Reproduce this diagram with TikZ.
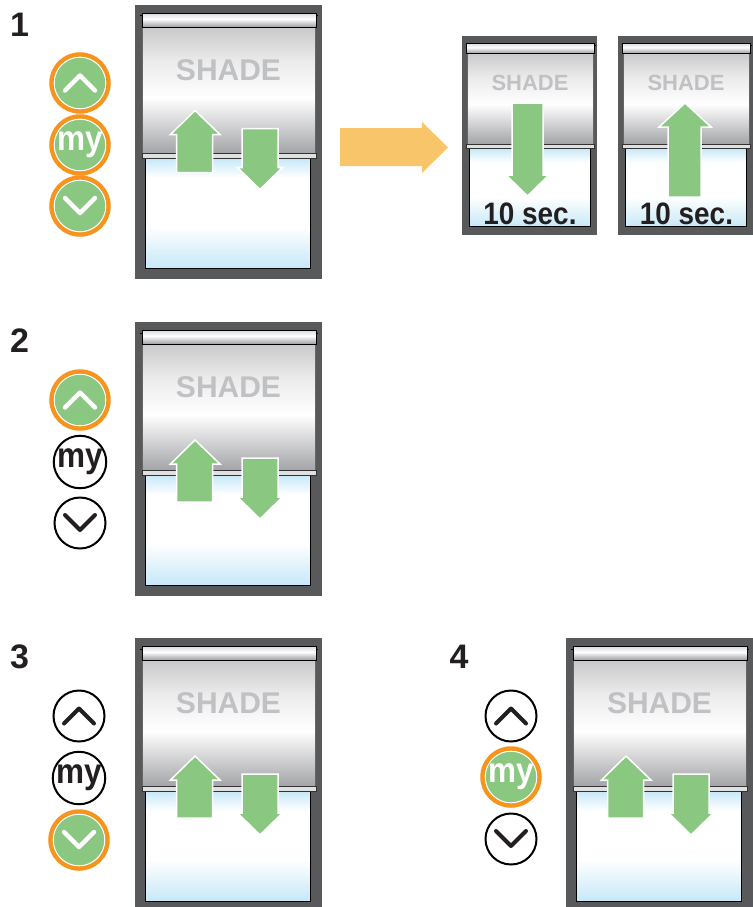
\documentclass[tikz,border=0pt]{standalone}
\usepackage{fontspec}
\setmainfont{Liberation Sans}
\newfontfamily\narrowfont[FakeStretch=0.9]{Liberation Sans}
\usetikzlibrary{positioning}
\definecolor{framegray}{HTML}{58595B}
\definecolor{leaf}{HTML}{8AC882}
\definecolor{ring}{HTML}{F7941E}
\definecolor{hint}{HTML}{F8C56B}
\definecolor{shadegray}{HTML}{C0C1C4}
\definecolor{sky}{HTML}{C6E8F8}
\definecolor{clothtop}{HTML}{C9C9CB}
\definecolor{clothbot}{HTML}{A3A4A7}
\definecolor{railtop}{HTML}{DADADC}
\definecolor{railbot}{HTML}{9A9B9E}
\definecolor{ink}{HTML}{231F20}
\pgfdeclareverticalshading{glassfade}{100bp}{color(0bp)=(sky); color(25bp)=(sky); color(44bp)=(white); color(66bp)=(white); color(75bp)=(sky); color(100bp)=(sky)}
\pgfdeclareverticalshading{clothfade}{100bp}{color(0bp)=(clothbot); color(25bp)=(clothbot); color(47bp)=(white); color(62bp)=(black!8); color(75bp)=(clothtop); color(100bp)=(clothtop)}
\pgfdeclareverticalshading{railfade}{100bp}{color(0bp)=(railbot); color(25bp)=(railbot); color(55bp)=(white); color(75bp)=(railtop); color(100bp)=(railtop)}
\newcommand*{\mytxt}{\narrowfont\bfseries\fontsize{35}{35}\selectfont}
\tikzset{
 winframe/.style={fill=framegray},
 glass/.style={draw=black, line width=0.8, shade, shading=glassfade},
 cloth/.style={draw=black!60, line width=0.5, shade, shading=clothfade},
 rail/.style={draw=black, line width=0.7, shade, shading=railfade},
 bottombar/.style={fill=black!12, draw=black!80, line width=0.6},
 greenarrow/.style={fill=leaf, draw=white, line width=1.5},
 shadetxt/.style={text=shadegray, inner sep=0, font=\bfseries\fontsize{30}{30}\selectfont},
 smalltxt/.style={text=shadegray, inner sep=0, font=\bfseries\fontsize{22}{22}\selectfont},
 sectxt/.style={text=ink, inner sep=0, anchor=base, font=\narrowfont\bfseries\fontsize{31}{31}\selectfont},
 steplabel/.style={text=ink, inner sep=0, font=\bfseries\fontsize{34}{34}\selectfont},
 btnon/.style={circle, fill=leaf, draw=ring, line width=4.5, minimum size=57, inner sep=0, text=white, font=\mytxt},
 btnoff/.style={circle, fill=white, draw=black, line width=2, minimum size=51, inner sep=0, text=ink, font=\mytxt},
 chevon/.style={draw=white, line width=4.5, line cap=round, line join=round},
 chevoff/.style={draw=ink, line width=4, line cap=round, line join=round}
}
\newcommand*{\btnring}[1]{\draw[white, line width=1] (#1.center) circle (25.8pt);}
\newcommand*{\chevup}[2]{\draw[#2] ([shift={(-15,7.5)}]#1.center) -- ([shift={(0,-7.5)}]#1.center) -- ([shift={(15,7.5)}]#1.center);}
\newcommand*{\chevdown}[2]{\draw[#2] ([shift={(-15,-8)}]#1.center) -- ([shift={(0,7)}]#1.center) -- ([shift={(15,-8)}]#1.center);}
\newcommand*{\bigshade}[4]{%
 \begin{scope}[shift={(#1,#2)}]
  \fill[winframe] (0,0) rectangle (187,274);
  \draw[glass] (10.7,153) rectangle (175.7,263.3);
  \draw[cloth] (7.5,22.3) rectangle (180,148.3);
  \draw[line width=1] (5,11) -- (183,11);
  \draw[rail] (7,8.3) rectangle (181,22.3);
  \draw[bottombar] (7,148.3) rectangle (181,153.3);
  \node[shadetxt] (#4) at (93.5,65.5) {SHADE};
  \begin{scope}[shift={(0,#3)}]
   \draw[greenarrow] (41.5,180) -- (41.5,142) -- (35.5,142) -- (60,118) -- (85,142) -- (77.5,142) -- (77.5,180) -- cycle;
   \draw[greenarrow] (107,136) -- (143,136) -- (143,175) -- (147.5,175) -- (125,197) -- (102.5,175) -- (107,175) -- cycle;
  \end{scope}
 \end{scope}}
\newcommand*{\smallshade}[3]{%
 \begin{scope}[shift={(#1,#2)}]
  \fill[winframe] (0,0) rectangle (135,199);
  \draw[glass] (7.3,112.3) rectangle (128,190.7);
  \draw[cloth] (5.7,17.3) rectangle (131.3,108);
  \draw[line width=1] (3.5,9.5) -- (133.5,9.5);
  \draw[rail] (4.7,7.3) rectangle (132,17.3);
  \draw[bottombar] (4.7,108) rectangle (132,112.3);
  \node[smalltxt] (#3) at (68,47) {SHADE};
 \end{scope}}

\begin{document}
\begin{tikzpicture}[x=1pt, y=-1pt]
 \useasboundingbox (0,0) rectangle (752,907);
 % 1
 \node[steplabel] (n1) at (19.5,25) {1};
 \bigshade{135}{5}{-12.5}{shade1}
 \node[btnon] (up1) at (80,83) {}; \btnring{up1} \chevup{up1}{chevon}
 \node[btnon] (my1) at (80,145) {my}; \btnring{my1}
 \node[btnon] (dn1) at (80,206) {}; \btnring{dn1} \chevdown{dn1}{chevon}
 \fill[hint] (340,128) -- (422,128) -- (422,122) -- (448,147.5) -- (422,173) -- (422,166) -- (340,166) -- cycle;
 \smallshade{462}{36}{sm1}
 \draw[greenarrow] (512,103) -- (543,103) -- (543,175) -- (549,175) -- (527.5,196) -- (506,175) -- (512,175) -- cycle;
 \node[sectxt] (t1) at (530,224.5) {10 sec.};
 \smallshade{618}{36}{sm2}
 \draw[greenarrow] (668,197) -- (668,127) -- (659,127) -- (685,103) -- (711,127) -- (701,127) -- (701,197) -- cycle;
 \node[sectxt] (t2) at (686.5,224.5) {10 sec.};
 % 2
 \node[steplabel] (n2) at (19.5,341) {2};
 \bigshade{135}{322}{0}{shade2}
 \node[btnon] (up2) at (80,400) {}; \btnring{up2} \chevup{up2}{chevon}
 \node[btnoff] (my2) at (80,462) {my};
 \node[btnoff] (dn2) at (80,523) {}; \chevdown{dn2}{chevoff}
 % 3
 \node[steplabel] (n3) at (19.5,657) {3};
 \bigshade{135}{638}{0}{shade3}
 \node[btnoff] (up3) at (79,716) {}; \chevup{up3}{chevoff}
 \node[btnoff] (my3) at (79,778) {my};
 \node[btnon] (dn3) at (79,840) {}; \btnring{dn3} \chevdown{dn3}{chevon}
 % 4
 \node[steplabel] (n4) at (459,657) {4};
 \bigshade{566}{638}{0}{shade4}
 \node[btnoff] (up4) at (511,716) {}; \chevup{up4}{chevoff}
 \node[btnon] (my4) at (511,777) {my}; \btnring{my4}
 \node[btnoff] (dn4) at (511,839) {}; \chevdown{dn4}{chevoff}
\end{tikzpicture}
\end{document}
